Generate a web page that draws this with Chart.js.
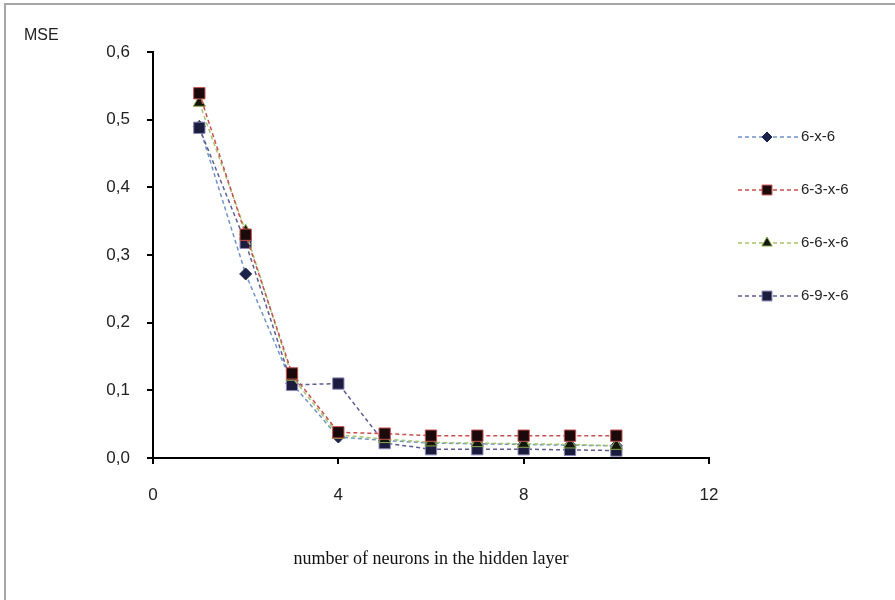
<!DOCTYPE html>
<html lang="en">
  <head>
    <meta charset="UTF-8" />
    <title>MSE vs hidden neurons</title>
    <script src="https://cdn.jsdelivr.net/npm/chart.js"></script>
    <style>
      body { margin: 0; background: #fff; }
    </style>
  </head>
  <body>
    <canvas id="mseChart" width="895" height="600"></canvas>
    <script>
      // values
      const neurons = [1, 2, 3, 4, 5, 6, 7, 8, 9, 10];
      const mse6x6 = [0.49, 0.272, 0.11, 0.031, 0.026, 0.022, 0.021, 0.02, 0.019, 0.018];
      const mse63x6 = [0.539, 0.33, 0.125, 0.038, 0.036, 0.033, 0.033, 0.033, 0.033, 0.033];
      const mse66x6 = [0.525, 0.335, 0.12, 0.034, 0.028, 0.023, 0.022, 0.021, 0.02, 0.018];
      const mse69x6 = [0.488, 0.318, 0.108, 0.11, 0.022, 0.013, 0.013, 0.013, 0.012, 0.011];
      const seriesNames = ["6-x-6", "6-3-x-6", "6-6-x-6", "6-9-x-6"];
      const xTicks = [0, 4, 8, 12];
      const yTicks = [0, 0.1, 0.2, 0.3, 0.4, 0.5, 0.6];

      function toPoints(values) {
        return values.map((v, i) => ({ x: neurons[i], y: v }));
      }

      function series(label, values, line, marker, style, radius, border) {
        return {
          label: label,
          data: toPoints(values),
          showLine: true,
          borderColor: line,
          borderWidth: 1.5,
          borderDash: [4, 3],
          pointStyle: style,
          pointRadius: radius,
          pointBackgroundColor: marker,
          pointBorderColor: border,
          pointBorderWidth: 1,
          tension: 0,
        };
      }

      const datasets = [
        series(seriesNames[0], mse6x6, "#6f93c6", "#1b2448", "rectRot", 6, "#1b2448"),
        series(seriesNames[1], mse63x6, "#c6504e", "#1a0a0c", "rect", 8, "#c6504e"),
        series(seriesNames[2], mse66x6, "#a8c46a", "#12160c", "triangle", 7, "#8aa84e"),
        series(seriesNames[3], mse69x6, "#5c5c92", "#1c1c3e", "rect", 8, "#8a8ab8"),
      ];
      // 6-x-6 sits under 6-9-x-6 like the original
      datasets[0].order = 2;
      datasets[3].order = 1;

      const fmt = (v) => v.toFixed(1).replace(".", ",");

      const extras = {
        id: "extras",
        beforeDraw(chart) {
          const ctx = chart.ctx;
          ctx.save();
          ctx.strokeStyle = "#a6a6a6";
          ctx.lineWidth = 2;
          ctx.beginPath();
          ctx.moveTo(5, 600);
          ctx.lineTo(5, 4);
          ctx.lineTo(895, 4);
          ctx.stroke();
          ctx.restore();
        },
        afterDraw(chart) {
          const ctx = chart.ctx;
          ctx.save();
          ctx.fillStyle = "#222";
          ctx.font = "16px 'Liberation Sans', sans-serif";
          ctx.textBaseline = "middle";
          ctx.fillText("MSE", 24, 36);

          // legend: dashed sample with marker
          chart.data.datasets.forEach((ds, i) => {
            const y = 137 + i * 53;
            ctx.strokeStyle = ds.borderColor;
            ctx.lineWidth = 1.5;
            ctx.setLineDash([4, 3]);
            ctx.beginPath();
            ctx.moveTo(738, y);
            ctx.lineTo(798, y);
            ctx.stroke();
            ctx.setLineDash([]);
            ctx.fillStyle = ds.pointBackgroundColor;
            ctx.strokeStyle = ds.pointBorderColor;
            ctx.lineWidth = 1;
            Chart.helpers.drawPoint(
              ctx,
              { pointStyle: ds.pointStyle, radius: ds.pointRadius - 1, borderWidth: 1 },
              767,
              y
            );
            ctx.fillStyle = "#222";
            ctx.font = "15px 'Liberation Sans', sans-serif";
            ctx.fillText(ds.label, 801, y);
          });
          ctx.restore();
        },
      };

      new Chart(document.getElementById("mseChart").getContext("2d"), {
        type: "scatter",
        data: { datasets: datasets },
        plugins: [extras],
        options: {
          responsive: false,
          animation: false,
          layout: { padding: { left: 0, right: 186, top: 52, bottom: 30 } },
          plugins: { legend: { display: false }, tooltip: { enabled: false } },
          scales: {
            x: {
              type: "linear",
              min: 0,
              max: 12,
              afterBuildTicks: (scale) => {
                scale.ticks = xTicks.map((v) => ({ value: v }));
              },
              ticks: {
                color: "#222",
                font: { family: "'Liberation Sans', sans-serif", size: 17 },
                padding: 21,
              },
              grid: {
                drawOnChartArea: false,
                drawTicks: true,
                tickLength: 6,
                color: "#000",
                lineWidth: 2,
              },
              border: { display: true, color: "#000", width: 2 },
              title: {
                display: true,
                text: "number of neurons in the hidden layer",
                color: "#111",
                font: { family: "'Liberation Serif', serif", size: 18 },
                padding: { top: 22, bottom: 0 },
              },
            },
            y: {
              min: 0,
              max: 0.6,
              afterBuildTicks: (scale) => {
                scale.ticks = yTicks.map((v) => ({ value: v }));
              },
              afterFit: (scale) => {
                scale.width = 153;
              },
              ticks: {
                color: "#222",
                font: { family: "'Liberation Sans', sans-serif", size: 17 },
                padding: 17,
                callback: (v) => fmt(v),
              },
              grid: {
                drawOnChartArea: false,
                drawTicks: true,
                tickLength: 6,
                color: "#000",
                lineWidth: 2,
              },
              border: { display: true, color: "#000", width: 2 },
            },
          },
        },
      });
    </script>
  </body>
</html>
